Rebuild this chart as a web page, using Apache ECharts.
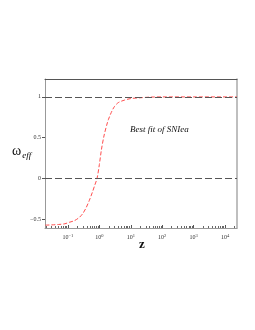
<!DOCTYPE html>
<html><head><meta charset="utf-8">
<script src="https://cdn.jsdelivr.net/npm/echarts@6/dist/echarts.min.js"></script>
<style>html,body{margin:0;padding:0;background:#fff}#c{width:255px;height:330px}</style>
</head><body><div id="c"></div>
<script>
// Data
const zValues = [0.019, 0.03, 0.05, 0.08, 0.11, 0.16, 0.23, 0.3, 0.38, 0.48, 0.6, 0.72, 0.845, 1.0, 1.16, 1.4, 1.7, 1.93, 2.4, 3.0, 4.0, 6.2, 10, 21, 45, 100, 1000, 24000];
const wEff = [-0.575, -0.572, -0.567, -0.558, -0.54, -0.52, -0.48, -0.43, -0.36, -0.27, -0.17, -0.08, 0.0, 0.17, 0.35, 0.52, 0.65, 0.72, 0.81, 0.88, 0.93, 0.96, 0.98, 0.99, 0.998, 1.0, 1.0, 1.0];
const xMajorTicks = [0.1, 1, 10, 100, 1000, 10000];
const yTicks = [-0.5, 0, 0.5, 1];
const refLines = [1, 0];
const seriesLabel = 'Best fit of SNIea';

const xMin = 0.0186, xMax = 24000, yMin = -0.61, yMax = 1.22;
const minorTicks = [];
for (let e = -2; e <= 4; e++) for (let k = 2; k <= 9; k++) {
  const v = k * Math.pow(10, e);
  if (v > xMin && v < xMax) minorTicks.push(v);
}
const serif = '"Liberation Serif", "DejaVu Serif", serif';

const chart = echarts.init(document.getElementById('c'), null, {renderer: 'canvas'});
chart.setOption({
  animation: false,
  backgroundColor: '#fff',
  grid: {left: 45, top: 79, right: 18, bottom: 102},
  xAxis: [
    {type: 'log', logBase: 10, min: xMin, max: xMax, position: 'bottom',
     axisLine: {show: true, onZero: false, lineStyle: {color: '#999', width: 1}},
     axisTick: {show: true, inside: true, length: 3, customValues: xMajorTicks, lineStyle: {color: '#555'}},
     axisLabel: {show: true, customValues: xMajorTicks, margin: 5, fontFamily: serif, fontSize: 6, color: '#333',
       formatter: v => '10{s|' + Math.round(Math.log10(v)).toString().replace('-', '−') + '}',
       rich: {s: {fontSize: 4.5, fontFamily: serif, color: '#333', verticalAlign: 'top', padding: [0, 0, 4, 0]}}},
     splitLine: {show: false}},
    {type: 'log', logBase: 10, min: xMin, max: xMax, position: 'bottom',
     axisLine: {show: false, onZero: false},
     axisTick: {show: true, inside: true, length: 2, customValues: minorTicks, lineStyle: {color: '#666'}},
     axisLabel: {show: false}, splitLine: {show: false}},
    {type: 'log', logBase: 10, min: xMin, max: xMax, position: 'top',
     axisLine: {show: true, onZero: false, lineStyle: {color: '#555', width: 1}},
     axisTick: {show: false}, axisLabel: {show: false}, splitLine: {show: false}}
  ],
  yAxis: [
    {type: 'value', min: yMin, max: yMax, position: 'left',
     axisLine: {show: true, onZero: false, lineStyle: {color: '#999', width: 1}},
     axisTick: {show: true, length: 3, customValues: yTicks, lineStyle: {color: '#555'}},
     axisLabel: {customValues: yTicks, margin: 4, fontFamily: serif, fontSize: 6, color: '#333',
       formatter: v => String(v).replace('-', '−')},
     splitLine: {show: false}},
    {type: 'value', min: yMin, max: yMax, position: 'right',
     axisLine: {show: true, onZero: false, lineStyle: {color: '#aaa', width: 1.5}},
     axisTick: {show: false}, axisLabel: {show: false}, splitLine: {show: false}}
  ],
  series: [
    {type: 'line', name: seriesLabel, xAxisIndex: 0, yAxisIndex: 0,
     data: zValues.map((z, i) => [z, wEff[i]]),
     smooth: 0.3, symbol: 'none',
     lineStyle: {color: '#ff4d4d', width: 1, type: [4, 2]},
     markLine: {silent: true, symbol: 'none', label: {show: false},
       lineStyle: {color: '#555', width: 1, type: [7, 3]},
       data: refLines.map(v => ({yAxis: v}))}}
  ],
  graphic: [
    {type: 'text', left: 130, top: 125, style: {text: seriesLabel, font: 'italic 9px ' + serif, fill: '#111'}},
    {type: 'text', left: 12, top: 144, style: {text: '{w|ω}{e|eff}', rich: {
      w: {fontFamily: serif, fontSize: 14, fill: '#111', color: '#111'},
      e: {fontFamily: serif, fontStyle: 'italic', fontSize: 9, color: '#111', padding: [10, 0, 0, 1]}}}},
    {type: 'text', left: 139, top: 238, style: {text: 'z', font: 'bold 13px ' + serif, fill: '#111'}}
  ]
});
</script></body></html>
